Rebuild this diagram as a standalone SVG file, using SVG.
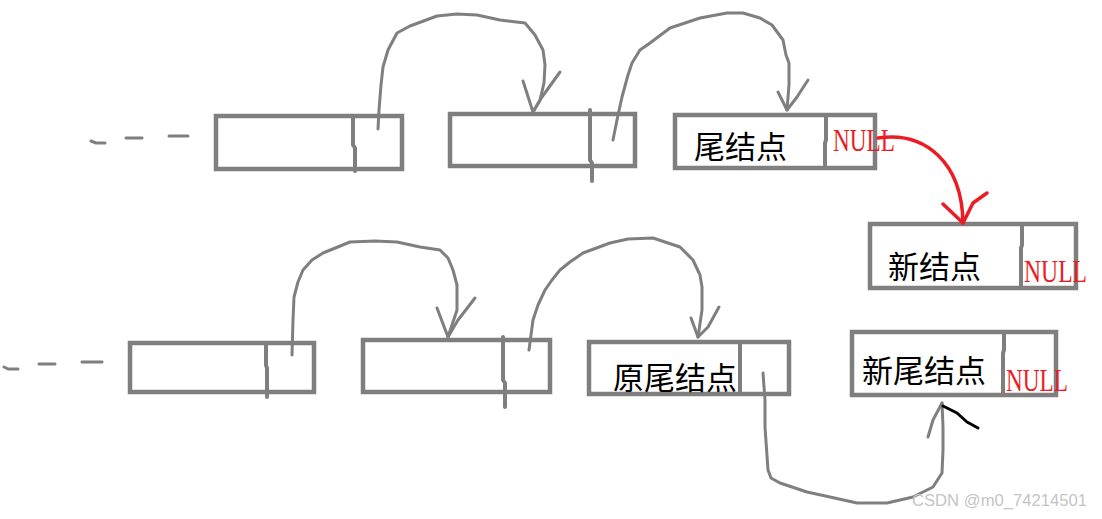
<svg xmlns="http://www.w3.org/2000/svg" width="1102" height="519" viewBox="0 0 1102 519">
<style>
.box{fill:none;stroke:#7f7f7f;stroke-width:4.5}
.div{fill:none;stroke:#7f7f7f;stroke-width:4;stroke-linecap:round}
.ln{fill:none;stroke:#7f7f7f;stroke-width:3;stroke-linecap:round;stroke-linejoin:round}
.red{fill:none;stroke:#ed1c24;stroke-width:3.5;stroke-linecap:round;stroke-linejoin:round}
.blk{fill:none;stroke:#000;stroke-width:3;stroke-linecap:round;stroke-linejoin:round}
.cjk{font-family:"Noto Sans CJK SC",sans-serif;font-size:31px;fill:#000}
.null{font-family:"Liberation Serif",serif;font-size:32px;fill:#ed1c24}
.wm{font-family:"Liberation Sans",Arial,sans-serif;font-size:16px;fill:#c4c4c4}
</style>
<rect width="1102" height="519" fill="#fff"/>
<g id="dashes">
<path class="ln" d="M91,141 L96,143 L105,143 M126,138 L142,138 M169,136 L188,136"/>
<path class="ln" d="M4,367 L8,369 L18,369 M39,364 L55,364 M82,362 L102,362"/>
</g>
<g id="top-node-1">
<rect class="box" x="216" y="116" width="186" height="53"/>
<path class="div" d="M353,116 L353,145 L355,148 L355,171"/>
</g>
<g id="top-node-2">
<rect class="box" x="450" y="114" width="185" height="52"/>
<path class="div" d="M590,110 L590,160 L592,163 L592,181"/>
</g>
<g id="tail-node">
<rect class="box" x="675" y="115" width="200" height="53"/>
<path class="div" d="M826,115 L826,140 L825,143 L825,165"/>
<text class="cjk" x="694" y="158">尾结点</text>
<text class="null" x="833" y="151" textLength="62" lengthAdjust="spacingAndGlyphs">NULL</text>
</g>
<g id="new-node">
<rect class="box" x="870" y="224" width="206" height="64"/>
<path class="div" d="M1022,224 L1022,245 L1021,248 L1021,288"/>
<text class="cjk" x="888" y="278">新结点</text>
<text class="null" x="1024" y="282" textLength="63" lengthAdjust="spacingAndGlyphs">NULL</text>
</g>
<g id="bottom-node-1">
<rect class="box" x="130" y="343" width="184" height="49"/>
<path class="div" d="M266,343 L266,365 L267,368 L267,397"/>
</g>
<g id="bottom-node-2">
<rect class="box" x="363" y="340" width="187" height="52"/>
<path class="div" d="M503,337 L503,380 L505,383 L505,407"/>
</g>
<g id="old-tail-node">
<rect class="box" x="589" y="342" width="200" height="52"/>
<path class="div" d="M740,342 L740,392"/>
<text class="cjk" x="613" y="389">原尾结点</text>
</g>
<g id="new-tail-node">
<rect class="box" x="852" y="332" width="204" height="63"/>
<path class="div" d="M1004,332 L1004,350 L1003,353 L1003,395"/>
<text class="cjk" x="862" y="382">新尾结点</text>
<text class="null" x="1006" y="391" textLength="62" lengthAdjust="spacingAndGlyphs">NULL</text>
</g>
<g id="connectors">
<path class="ln" d="M378,129 L379,110 L381,85 L383,67 L388,50 L397,33 L410,26 L437,16 L457,14 L477,15 L500,20 L525,23 L535,35 L543,50 L545,65 L544,83 L540,100 L533,112"/>
<path class="ln" d="M523,81 L533,112 M560,72 L542,97 L533,112"/>
<path class="ln" d="M613,140 L617,120 L622,97 L628,75 L632,63 L640,50 L650,43 L670,28 L700,18 L727,13 L743,13 L760,18 L772,25 L783,40 L786,55 L789,63 L789,85 L787,110"/>
<path class="ln" d="M778,92 L787,110 M808,80 L797,97 L787,110"/>
<path class="red" d="M878,138 C925,131 962,162 963,223"/>
<path class="red" d="M943,204 L963,223 M987,193 L973,203 L963,223"/>
<path class="ln" d="M292,355 L293,320 L294,297 L298,282 L303,270 L312,260 L323,253 L350,242 L375,241 L397,242 L420,247 L440,250 L448,258 L453,270 L457,285 L457,310 L448,337"/>
<path class="ln" d="M437,308 L448,337 M475,298 L458,320 L448,337"/>
<path class="ln" d="M529,350 L531,335 L533,320 L538,305 L545,290 L552,280 L560,270 L570,262 L583,253 L610,243 L628,239 L653,238 L668,243 L680,247 L693,260 L700,275 L702,287 L702,310 L698,337"/>
<path class="ln" d="M691,318 L698,337 M719,307 L708,327 L698,337"/>
<path class="ln" d="M763,373 L765,400 L765,427 L768,470 L771,478 L780,483 L807,492 L830,497 L857,503 L887,503 L913,497 L933,487 L942,473 L943,450 L943,427 L942,403"/>
<path class="ln" d="M928,437 L933,420 L942,403"/>
<path class="blk" d="M943,406 L957,413 L967,422 L978,428"/>
</g>
<text class="wm" x="912" y="506" textLength="175" lengthAdjust="spacingAndGlyphs">CSDN @m0_74214501</text>
</svg>
